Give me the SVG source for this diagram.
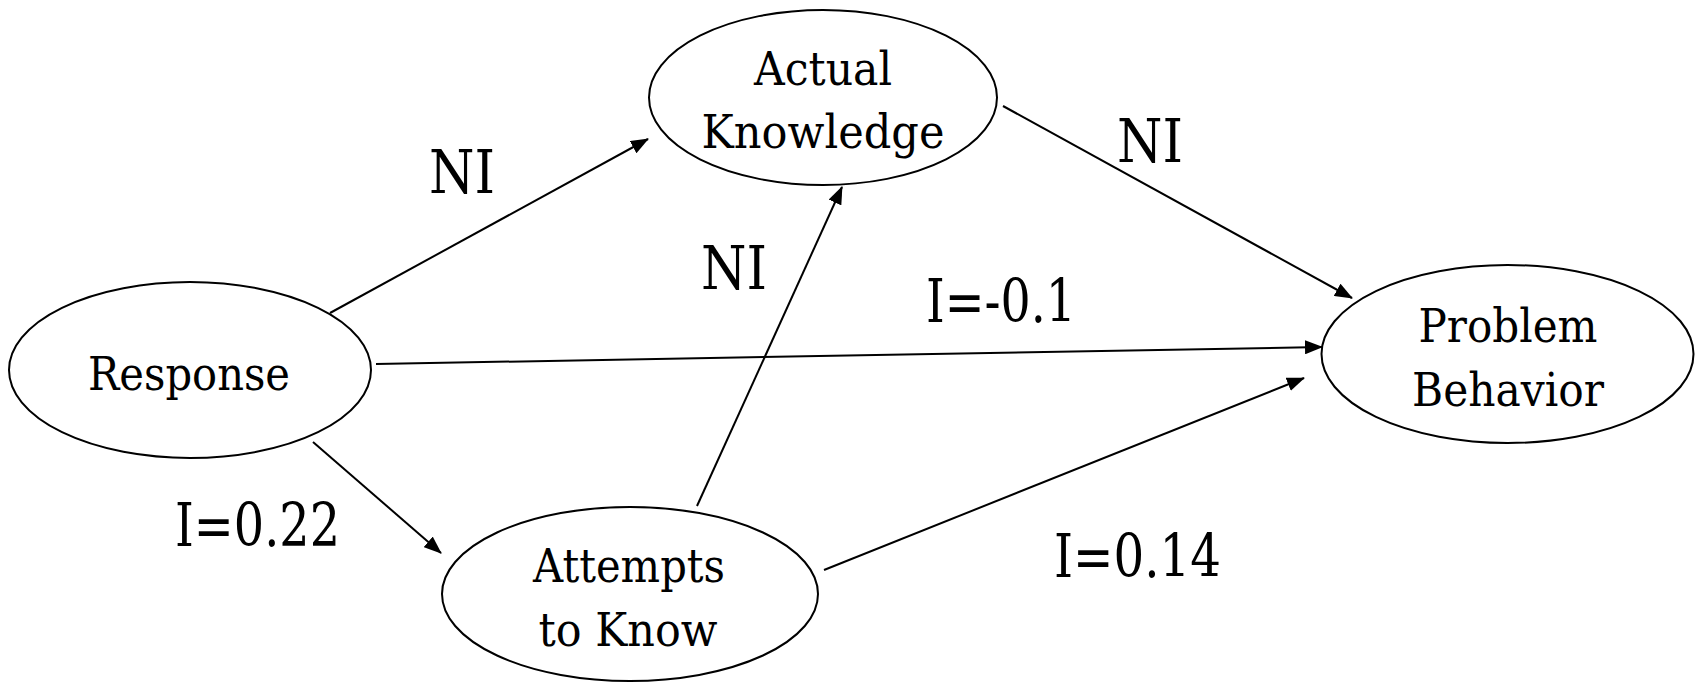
<svg xmlns="http://www.w3.org/2000/svg" width="1695" height="682" viewBox="0 0 1695 682">
<style>
  .node ellipse { fill: #fff; stroke: #000; stroke-width: 2; }
  .t { font-family: 'DejaVu Serif', 'Liberation Serif', serif; fill: #000; text-anchor: middle; }
  .nt { font-size: 46px; }
  .edges line { stroke: #000; stroke-width: 2; marker-end: url(#arrow); }
  .lbl { font-size: 60px; }
</style>
<defs>
  <marker id="arrow" markerUnits="userSpaceOnUse" markerWidth="18" markerHeight="14" refX="17" refY="7" orient="auto" viewBox="0 0 18 14">
    <path d="M0,0 L18,7 L0,14 z" fill="#000"/>
  </marker>
</defs>
<rect width="1695" height="682" fill="#fff"/>
<g class="edges">
  <line x1="330" y1="313" x2="648" y2="139"/>
  <line x1="1003" y1="106" x2="1352" y2="298"/>
  <line x1="376" y1="364" x2="1322" y2="347"/>
  <line x1="313" y1="442" x2="441" y2="553"/>
  <line x1="697" y1="506" x2="842" y2="187"/>
  <line x1="824" y1="570" x2="1304" y2="378"/>
</g>
<g id="response" class="node">
  <ellipse cx="190" cy="370" rx="181" ry="88"/>
  <text class="t nt" x="189" y="390" textLength="202" lengthAdjust="spacingAndGlyphs">Response</text>
</g>
<g id="actual-knowledge" class="node">
  <ellipse cx="823" cy="97.5" rx="174" ry="87.5"/>
  <text class="t nt" x="823" y="85" textLength="138" lengthAdjust="spacingAndGlyphs">Actual</text>
  <text class="t nt" x="823" y="148" textLength="243" lengthAdjust="spacingAndGlyphs">Knowledge</text>
</g>
<g id="problem-behavior" class="node">
  <ellipse cx="1507.5" cy="354" rx="186" ry="89"/>
  <text class="t nt" x="1508" y="342" textLength="179" lengthAdjust="spacingAndGlyphs">Problem</text>
  <text class="t nt" x="1508" y="406" textLength="192" lengthAdjust="spacingAndGlyphs">Behavior</text>
</g>
<g id="attempts-to-know" class="node">
  <ellipse cx="630" cy="594" rx="188" ry="87"/>
  <text class="t nt" x="629" y="582" textLength="192" lengthAdjust="spacingAndGlyphs">Attempts</text>
  <text class="t nt" x="628" y="646" textLength="179" lengthAdjust="spacingAndGlyphs">to Know</text>
</g>
<g id="labels">
  <text class="t lbl" x="462" y="193" textLength="66" lengthAdjust="spacingAndGlyphs">NI</text>
  <text class="t lbl" x="1150" y="162" textLength="66" lengthAdjust="spacingAndGlyphs">NI</text>
  <text class="t lbl" x="734" y="289" textLength="66" lengthAdjust="spacingAndGlyphs">NI</text>
  <text class="t lbl" x="1001" y="322" textLength="150" lengthAdjust="spacingAndGlyphs">I=-0.1</text>
  <text class="t lbl" x="257.5" y="546" textLength="165" lengthAdjust="spacingAndGlyphs">I=0.22</text>
  <text class="t lbl" x="1137.5" y="577" textLength="167" lengthAdjust="spacingAndGlyphs">I=0.14</text>
</g>
</svg>
